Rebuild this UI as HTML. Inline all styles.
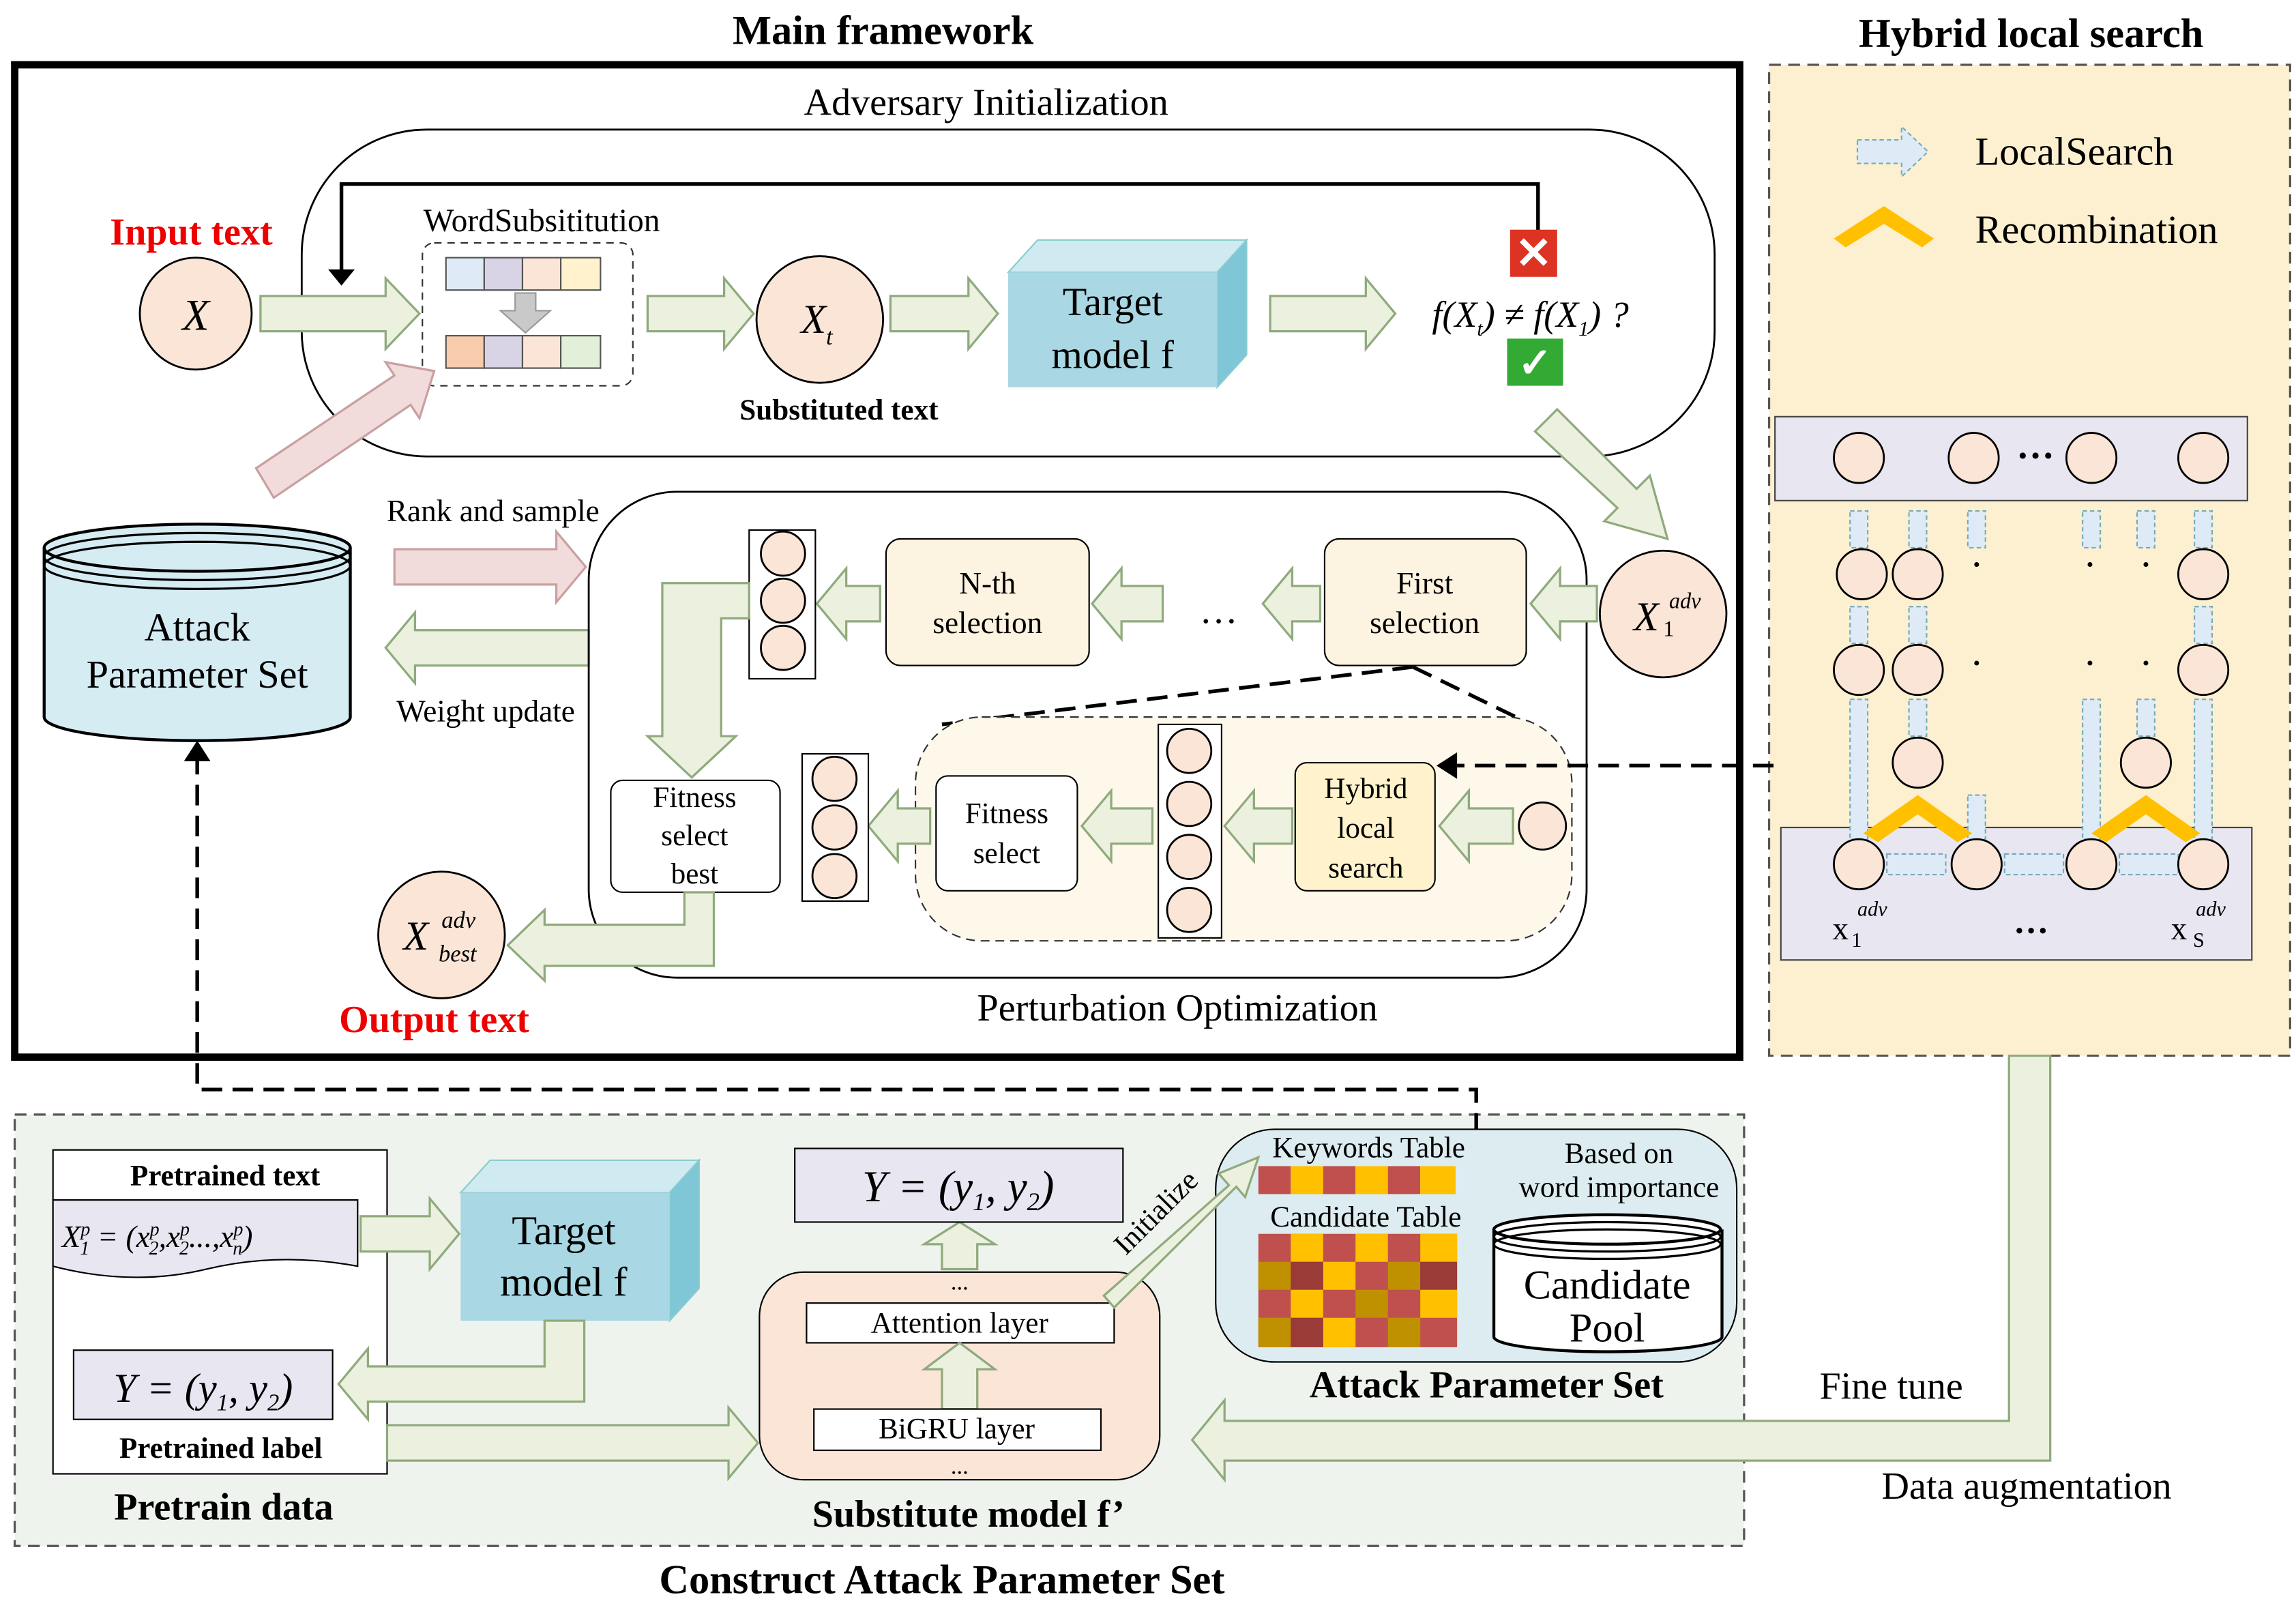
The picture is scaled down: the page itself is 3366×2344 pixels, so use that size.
<!DOCTYPE html>
<html><head><meta charset="utf-8"><style>
html,body{margin:0;padding:0;background:#fff}
svg{display:block}
text{font-family:"Liberation Serif",serif;fill:#000}
.g{fill:#ebf1de;stroke:#8faa7c;stroke-width:1.5}
.p{fill:#f2dcdb;stroke:#c9a0a0;stroke-width:1.5}
.b{font-weight:bold}
.c{fill:#fbe5d6;stroke:#000;stroke-width:1.3}
</style></head><body>
<svg width="3366" height="2344" viewBox="0 0 1560 1086" preserveAspectRatio="none" xmlns="http://www.w3.org/2000/svg">
<!-- right panel -->
<rect x="1202" y="44" width="354" height="673" fill="#fdf0d0" stroke="#555" stroke-dasharray="8,5" stroke-width="1.5"/>
<text x="1380" y="32" font-size="28" text-anchor="middle" class="b">Hybrid local search</text>
<text x="600" y="30" font-size="28" text-anchor="middle" class="b">Main framework</text>
<!-- bottom panel -->
<rect x="10" y="757" width="1175" height="293" fill="#eef3ee" stroke="#555" stroke-dasharray="8,5" stroke-width="1.5"/>
<text x="640" y="1082" font-size="28" text-anchor="middle" class="b">Construct Attack Parameter Set</text>
<!-- main box -->
<rect x="10" y="44" width="1172" height="674" fill="#fff" stroke="#000" stroke-width="5"/>
<text x="670" y="78" font-size="26" text-anchor="middle">Adversary Initialization</text>
<rect x="205" y="88" width="960" height="222" rx="85" fill="none" stroke="#000" stroke-width="1.3"/>
<text x="130" y="166" font-size="26" fill="#e00" class="b" text-anchor="middle" style="fill:#e00">Input text</text>
<circle cx="133" cy="213" r="38" class="c"/>
<text x="133" y="224" font-size="30" font-style="italic" text-anchor="middle">X</text>
<polygon class="g" points="177,201 262,201 262,189 285,213 262,237 262,225 177,225"/>
<rect x="287" y="165" width="143" height="97" rx="8" fill="none" stroke="#333" stroke-dasharray="5,4"/>
<rect x="303" y="175" width="26" height="22" fill="#deebf7" stroke="#555"/><rect x="329" y="175" width="26" height="22" fill="#d9d3e6" stroke="#555"/><rect x="355" y="175" width="26" height="22" fill="#fbe5d6" stroke="#555"/><rect x="381" y="175" width="27" height="22" fill="#fff2cc" stroke="#555"/>
<rect x="303" y="228" width="26" height="22" fill="#f8cbad" stroke="#555"/><rect x="329" y="228" width="26" height="22" fill="#d9d3e6" stroke="#555"/><rect x="355" y="228" width="26" height="22" fill="#fbe5d6" stroke="#555"/><rect x="381" y="228" width="27" height="22" fill="#e2f0d9" stroke="#555"/>
<polygon fill="#c9c9c9" stroke="#999" points="350,199 364,199 364,211 374,211 357,226 340,211 350,211"/>
<text x="368" y="157" font-size="22" text-anchor="middle">WordSubsititution</text>
<polyline points="1045,160 1045,125 232,125 232,185" fill="none" stroke="#000" stroke-width="2.5"/>
<polygon points="223,183 241,183 232,194"/>
<polygon class="g" points="440,201 492,201 492,189 512,213 492,237 492,225 440,225"/>
<circle cx="557" cy="217" r="43" class="c"/>
<text x="555" y="226" font-size="28" font-style="italic" text-anchor="middle">X<tspan font-size="16" dy="8">t</tspan></text>
<text x="570" y="285" font-size="20" class="b" text-anchor="middle">Substituted text</text>
<polygon class="g" points="605,201 658,201 658,189 678,213 658,237 658,225 605,225"/>
<polygon points="685,185 705,163 847,163 827,185" fill="#cfeaf1" stroke="#8cc"/>
<polygon points="827,185 847,163 847,241 827,263" fill="#7fc6d7" stroke="#8cc"/>
<rect x="685" y="185" width="142" height="78" fill="#a9d7e3"/>
<text x="756" y="214" font-size="27" text-anchor="middle">Target</text>
<text x="756" y="250" font-size="27" text-anchor="middle">model f</text>
<polygon class="g" points="863,201 928,201 928,189 948,213 928,237 928,225 863,225"/>
<rect x="1026" y="156" width="32" height="32" fill="#d32" /><text x="1042" y="182" font-size="30" text-anchor="middle" style="fill:#fff" class="b">✕</text>
<rect x="1024" y="230" width="38" height="32" fill="#3a3"/><text x="1043" y="256" font-size="28" text-anchor="middle" style="fill:#fff" class="b">✓</text>
<text x="973" y="222" font-size="25" font-style="italic">f(X<tspan font-size="14" dy="6">t</tspan><tspan dy="-6">) ≠ f(X</tspan><tspan font-size="14" dy="6">1</tspan><tspan dy="-6">) ?</tspan></text>
<polygon class="g" points="1043,293 1058,278 1112,332 1121,323 1133,366 1090,354 1099,345"/>
<polygon class="p" points="174,318 268,255 262,246 295,252 285,284 279,275 186,338"/>
<!-- cylinder -->
<path d="M30,372 L30,487 A104,16 0 0 0 238,487 L238,372" fill="#d6ecf3" stroke="#000" stroke-width="2"/>
<ellipse cx="134" cy="372" rx="104" ry="16" fill="#d6ecf3" stroke="#000" stroke-width="2"/>
<ellipse cx="134" cy="378" rx="104" ry="16" fill="none" stroke="#000" stroke-width="1.5"/>
<ellipse cx="134" cy="384" rx="104" ry="16" fill="none" stroke="#000" stroke-width="1.5"/>
<text x="134" y="435" font-size="27" text-anchor="middle">Attack</text>
<text x="134" y="467" font-size="27" text-anchor="middle">Parameter Set</text>
<text x="335" y="354" font-size="21" text-anchor="middle">Rank and sample</text>
<polygon class="p" points="268,373 378,373 378,361 398,385 378,409 378,397 268,397"/>
<polygon class="g" points="400,428 282,428 282,416 262,440 282,464 282,452 400,452"/>
<text x="330" y="490" font-size="21" text-anchor="middle">Weight update</text>
<rect x="400" y="334" width="678" height="330" rx="60" fill="none" stroke="#000" stroke-width="1.3"/>
<circle cx="1130" cy="417" r="43" class="c"/>
<text x="1110" y="428" font-size="28" font-style="italic">X</text><text x="1134" y="413" font-size="15" font-style="italic">adv</text><text x="1130" y="432" font-size="15">1</text>
<polygon class="g" points="1085,398 1060,398 1060,386 1040,410 1060,434 1060,422 1085,422"/>
<rect x="900" y="366" width="137" height="86" rx="10" fill="#fdf3e1" stroke="#000"/>
<text x="968" y="403" font-size="21" text-anchor="middle">First</text><text x="968" y="430" font-size="21" text-anchor="middle">selection</text>
<polygon class="g" points="897,398 878,398 878,386 858,410 878,434 878,422 897,422"/>
<text x="828" y="423" font-size="26" text-anchor="middle">…</text>
<polygon class="g" points="790,398 762,398 762,386 742,410 762,434 762,422 790,422"/>
<rect x="602" y="366" width="138" height="86" rx="10" fill="#fdf3e1" stroke="#000"/>
<text x="671" y="403" font-size="21" text-anchor="middle">N-th</text><text x="671" y="430" font-size="21" text-anchor="middle">selection</text>
<polygon class="g" points="598,398 575,398 575,386 555,410 575,434 575,422 598,422"/>
<rect x="509" y="360" width="45" height="101" fill="#fff" stroke="#000"/>
<circle cx="532" cy="376" r="15" class="c"/><circle cx="532" cy="408" r="15" class="c"/><circle cx="532" cy="440" r="15" class="c"/>
<polygon class="g" points="509,396 450,396 450,500 440,500 470,528 500,500 490,500 490,420 509,420"/>
<rect x="415" y="530" width="115" height="76" rx="8" fill="#fff" stroke="#000"/>
<text x="472" y="548" font-size="20" text-anchor="middle">Fitness</text><text x="472" y="574" font-size="20" text-anchor="middle">select</text><text x="472" y="600" font-size="20" text-anchor="middle">best</text>
<polygon class="g" points="485,606 485,656 370,656 370,666 345,642 370,618 370,628 465,628 465,606"/>
<circle cx="300" cy="635" r="43" class="c"/>
<text x="274" y="645" font-size="28" font-style="italic">X</text><text x="300" y="630" font-size="16" font-style="italic">adv</text><text x="298" y="653" font-size="16" font-style="italic">best</text>
<text x="295" y="701" font-size="26" class="b" text-anchor="middle" style="fill:#e00">Output text</text>
<text x="800" y="693" font-size="26" text-anchor="middle">Perturbation Optimization</text>
<line x1="960" y1="453" x2="640" y2="492" stroke="#000" stroke-width="2.5" stroke-dasharray="14,7"/>
<line x1="960" y1="453" x2="1030" y2="487" stroke="#000" stroke-width="2.5" stroke-dasharray="14,7"/>
<rect x="622" y="487" width="446" height="152" rx="45" fill="#fdf8ea" stroke="#333" stroke-dasharray="6,4"/>
<circle cx="1048" cy="561" r="16" class="c"/>
<polygon class="g" points="1028,549 998,549 998,537 978,561 998,585 998,573 1028,573"/>
<rect x="880" y="518" width="95" height="87" rx="8" fill="#fff2cc" stroke="#000"/>
<text x="928" y="542" font-size="20" text-anchor="middle">Hybrid</text><text x="928" y="569" font-size="20" text-anchor="middle">local</text><text x="928" y="596" font-size="20" text-anchor="middle">search</text>
<polygon class="g" points="878,549 852,549 852,537 832,561 852,585 852,573 878,573"/>
<rect x="787" y="492" width="43" height="145" fill="#fff" stroke="#000"/>
<circle cx="808" cy="510" r="15" class="c"/><circle cx="808" cy="546" r="15" class="c"/><circle cx="808" cy="582" r="15" class="c"/><circle cx="808" cy="618" r="15" class="c"/>
<polygon class="g" points="783,549 755,549 755,537 735,561 755,585 755,573 783,573"/>
<rect x="636" y="527" width="96" height="78" rx="8" fill="#fff" stroke="#000"/>
<text x="684" y="559" font-size="20" text-anchor="middle">Fitness</text><text x="684" y="586" font-size="20" text-anchor="middle">select</text>
<polygon class="g" points="632,549 610,549 610,537 590,561 610,585 610,573 632,573"/>
<rect x="545" y="512" width="45" height="100" fill="#fff" stroke="#000"/>
<circle cx="567" cy="529" r="15" class="c"/><circle cx="567" cy="562" r="15" class="c"/><circle cx="567" cy="595" r="15" class="c"/>
<line x1="1205" y1="520" x2="990" y2="520" stroke="#000" stroke-width="2.5" stroke-dasharray="14,7"/>
<polygon points="976,520 990,511 990,529"/>
<polyline points="1003,770 1003,740 134,740 134,515" fill="none" stroke="#000" stroke-width="2.5" stroke-dasharray="14,7"/>
<polygon points="134,503 125,517 143,517"/>
<!-- right panel content -->
<polygon fill="#deebf7" stroke="#7ab" stroke-dasharray="3,2" points="1262,95 1292,95 1292,86 1310,103 1292,120 1292,111 1262,111"/>
<text x="1342" y="112" font-size="27">LocalSearch</text>
<polygon fill="#ffc000" points="1246,162 1280,140 1314,162 1306,168 1280,152 1254,168"/>
<text x="1342" y="165" font-size="27">Recombination</text>
<rect x="1206" y="283" width="321" height="57" fill="#e8e6f0" stroke="#444"/>
<circle cx="1263" cy="311" r="17" class="c"/><circle cx="1341" cy="311" r="17" class="c"/><circle cx="1421" cy="311" r="17" class="c"/><circle cx="1497" cy="311" r="17" class="c"/>
<text x="1383" y="318" font-size="26" text-anchor="middle" class="b">···</text>
<rect x="1210" y="562" width="320" height="90" fill="#e8e6f0" stroke="#444"/>
<g fill="#deebf7" stroke="#7ab" stroke-dasharray="3,2">
<rect x="1257" y="347" width="12" height="25"/><rect x="1297" y="347" width="12" height="25"/><rect x="1337" y="347" width="12" height="25"/><rect x="1415" y="347" width="12" height="25"/><rect x="1452" y="347" width="12" height="25"/><rect x="1491" y="347" width="12" height="25"/>
<rect x="1257" y="412" width="12" height="25"/><rect x="1297" y="412" width="12" height="25"/><rect x="1491" y="412" width="12" height="25"/>
<rect x="1257" y="475" width="12" height="95"/><rect x="1297" y="475" width="12" height="25"/><rect x="1337" y="540" width="12" height="30"/><rect x="1415" y="475" width="12" height="95"/><rect x="1452" y="475" width="12" height="25"/><rect x="1491" y="475" width="12" height="95"/>
<rect x="1282" y="580" width="40" height="14"/><rect x="1362" y="580" width="40" height="14"/><rect x="1440" y="580" width="40" height="14"/>
</g>
<circle cx="1265" cy="390" r="17" class="c"/><circle cx="1303" cy="390" r="17" class="c"/><circle cx="1497" cy="390" r="17" class="c"/>
<circle cx="1263" cy="455" r="17" class="c"/><circle cx="1303" cy="455" r="17" class="c"/><circle cx="1497" cy="455" r="17" class="c"/>
<circle cx="1303" cy="518" r="17" class="c"/><circle cx="1458" cy="518" r="17" class="c"/>
<g font-size="20" text-anchor="middle" class="b"><text x="1343" y="390">·</text><text x="1420" y="390">·</text><text x="1458" y="390">·</text><text x="1343" y="457">·</text><text x="1420" y="457">·</text><text x="1458" y="457">·</text></g>
<polygon fill="#ffc000" points="1266,566 1303,540 1340,566 1330,572 1303,553 1276,572"/>
<polygon fill="#ffc000" points="1421,566 1458,540 1495,566 1485,572 1458,553 1431,572"/>
<circle cx="1263" cy="587" r="17" class="c"/><circle cx="1343" cy="587" r="17" class="c"/><circle cx="1421" cy="587" r="17" class="c"/><circle cx="1497" cy="587" r="17" class="c"/>
<text x="1245" y="638" font-size="22">x</text><text x="1262" y="622" font-size="14" font-style="italic">adv</text><text x="1258" y="643" font-size="14">1</text>
<text x="1380" y="640" font-size="24" text-anchor="middle" class="b">···</text>
<text x="1475" y="638" font-size="22">x</text><text x="1492" y="622" font-size="14" font-style="italic">adv</text><text x="1490" y="643" font-size="14">S</text>
<!-- fine tune / data aug -->
<polygon class="g" points="1365,717 1393,717 1393,992 832,992 832,1005 810,978 832,951 832,965 1365,965"/>
<text x="1285" y="950" font-size="26" text-anchor="middle">Fine tune</text>
<text x="1377" y="1018" font-size="26" text-anchor="middle">Data augmentation</text>
<!-- bottom content -->
<rect x="36" y="781" width="227" height="220" fill="#fff" stroke="#000"/>
<text x="153" y="805" font-size="20" class="b" text-anchor="middle">Pretrained text</text>
<path d="M36,815 L243,815 L243,860 Q190,850 140,862 Q90,874 36,860 Z" fill="#e8e6f0" stroke="#000"/>
<text x="42" y="847" font-size="21" font-style="italic">X<tspan font-size="13" dy="-8">p</tspan><tspan font-size="13" dx="-7" dy="13">1</tspan><tspan dy="-5"> = (x</tspan><tspan font-size="13" dy="-8">p</tspan><tspan font-size="13" dx="-7" dy="13">2</tspan><tspan dy="-5">,x</tspan><tspan font-size="13" dy="-8">p</tspan><tspan font-size="13" dx="-7" dy="13">2</tspan><tspan dy="-5">...,x</tspan><tspan font-size="13" dy="-8">p</tspan><tspan font-size="13" dx="-7" dy="13">n</tspan><tspan dy="-5">)</tspan></text>
<polygon class="g" points="245,826 292,826 292,814 312,838 292,862 292,850 245,850"/>
<polygon points="313,810 333,788 475,788 455,810" fill="#cfeaf1" stroke="#8cc"/>
<polygon points="455,810 475,788 475,875 455,897" fill="#7fc6d7" stroke="#8cc"/>
<rect x="313" y="810" width="142" height="87" fill="#a9d7e3"/>
<text x="383" y="845" font-size="28" text-anchor="middle">Target</text><text x="383" y="880" font-size="28" text-anchor="middle">model f</text>
<polygon class="g" points="397,897 397,952 250,952 250,964 230,940 250,916 250,928 370,928 370,897"/>
<rect x="50" y="917" width="176" height="47" fill="#e8e6f0" stroke="#000"/>
<text x="138" y="952" font-size="28" font-style="italic" text-anchor="middle">Y = (y<tspan font-size="16" dy="6">1</tspan><tspan dy="-6">, y</tspan><tspan font-size="16" dy="6">2</tspan><tspan dy="-6">)</tspan></text>
<text x="150" y="990" font-size="20" class="b" text-anchor="middle">Pretrained label</text>
<text x="152" y="1032" font-size="26" class="b" text-anchor="middle">Pretrain data</text>
<polygon class="g" points="263,968 495,968 495,956 515,980 495,1004 495,992 263,992"/>
<rect x="516" y="864" width="272" height="141" rx="30" fill="#fbe5d6" stroke="#000"/>
<text x="652" y="876" font-size="16" text-anchor="middle">...</text>
<rect x="548" y="885" width="209" height="27" fill="#fff" stroke="#000"/>
<text x="652" y="905" font-size="20" text-anchor="middle">Attention layer</text>
<polygon class="g" points="640,957 640,930 628,930 652,912 676,930 664,930 664,957"/>
<rect x="553" y="957" width="195" height="28" fill="#fff" stroke="#000"/>
<text x="650" y="977" font-size="20" text-anchor="middle">BiGRU layer</text>
<text x="652" y="1001" font-size="16" text-anchor="middle">...</text>
<polygon class="g" points="640,862 640,845 628,845 652,830 676,845 664,845 664,862"/>
<rect x="540" y="780" width="223" height="50" fill="#e8e6f0" stroke="#000"/>
<text x="651" y="816" font-size="30" font-style="italic" text-anchor="middle">Y = (y<tspan font-size="17" dy="6">1</tspan><tspan dy="-6">, y</tspan><tspan font-size="17" dy="6">2</tspan><tspan dy="-6">)</tspan></text>
<text x="658" y="1037" font-size="26" class="b" text-anchor="middle">Substitute model f’</text>
<rect x="826" y="767" width="354" height="158" rx="40" fill="#dcecf0" stroke="#000"/>
<polygon class="g" points="750,880 835,805 828,797 855,786 846,813 840,806 757,888"/>
<text x="790" y="828" font-size="20" transform="rotate(-45 790 828)" text-anchor="middle">Initialize</text>
<text x="930" y="786" font-size="20" text-anchor="middle">Keywords Table</text>
<g><rect x="855" y="792" width="22" height="19" fill="#c0504d"/><rect x="877" y="792" width="22" height="19" fill="#ffc000"/><rect x="899" y="792" width="22" height="19" fill="#c0504d"/><rect x="921" y="792" width="22" height="19" fill="#ffc000"/><rect x="943" y="792" width="22" height="19" fill="#c0504d"/><rect x="965" y="792" width="24" height="19" fill="#ffc000"/></g>
<text x="928" y="833" font-size="20" text-anchor="middle">Candidate Table</text>
<g id="grid">
<rect x="855" y="838" width="135" height="77" fill="#c0504d"/>
<rect x="877" y="838" width="22" height="19" fill="#ffc000"/><rect x="921" y="838" width="22" height="19" fill="#ffc000"/><rect x="965" y="838" width="25" height="19" fill="#ffc000"/>
<rect x="855" y="857" width="22" height="19" fill="#bf9000"/><rect x="899" y="857" width="22" height="19" fill="#ffc000"/><rect x="943" y="857" width="22" height="19" fill="#bf9000"/><rect x="877" y="857" width="22" height="19" fill="#9b3b38"/><rect x="965" y="857" width="25" height="19" fill="#9b3b38"/>
<rect x="877" y="876" width="22" height="19" fill="#ffc000"/><rect x="921" y="876" width="22" height="19" fill="#bf9000"/><rect x="965" y="876" width="25" height="19" fill="#ffc000"/>
<rect x="855" y="895" width="22" height="20" fill="#bf9000"/><rect x="899" y="895" width="22" height="20" fill="#ffc000"/><rect x="943" y="895" width="22" height="20" fill="#bf9000"/><rect x="877" y="895" width="22" height="20" fill="#9b3b38"/>
</g>
<text x="1100" y="790" font-size="20" text-anchor="middle">Based on</text>
<text x="1100" y="813" font-size="20" text-anchor="middle">word importance</text>
<path d="M1015,835 L1015,908 A77,10 0 0 0 1170,908 L1170,835" fill="#fff" stroke="#000" stroke-width="2"/>
<ellipse cx="1092" cy="835" rx="77" ry="10" fill="#fff" stroke="#000" stroke-width="2"/>
<ellipse cx="1092" cy="840" rx="77" ry="10" fill="none" stroke="#000" stroke-width="1.5"/>
<ellipse cx="1092" cy="845" rx="77" ry="10" fill="none" stroke="#000" stroke-width="1.5"/>
<text x="1092" y="882" font-size="28" text-anchor="middle">Candidate</text>
<text x="1092" y="911" font-size="28" text-anchor="middle">Pool</text>
<text x="1010" y="949" font-size="26" class="b" text-anchor="middle">Attack Parameter Set</text>
</svg>
</body></html>
